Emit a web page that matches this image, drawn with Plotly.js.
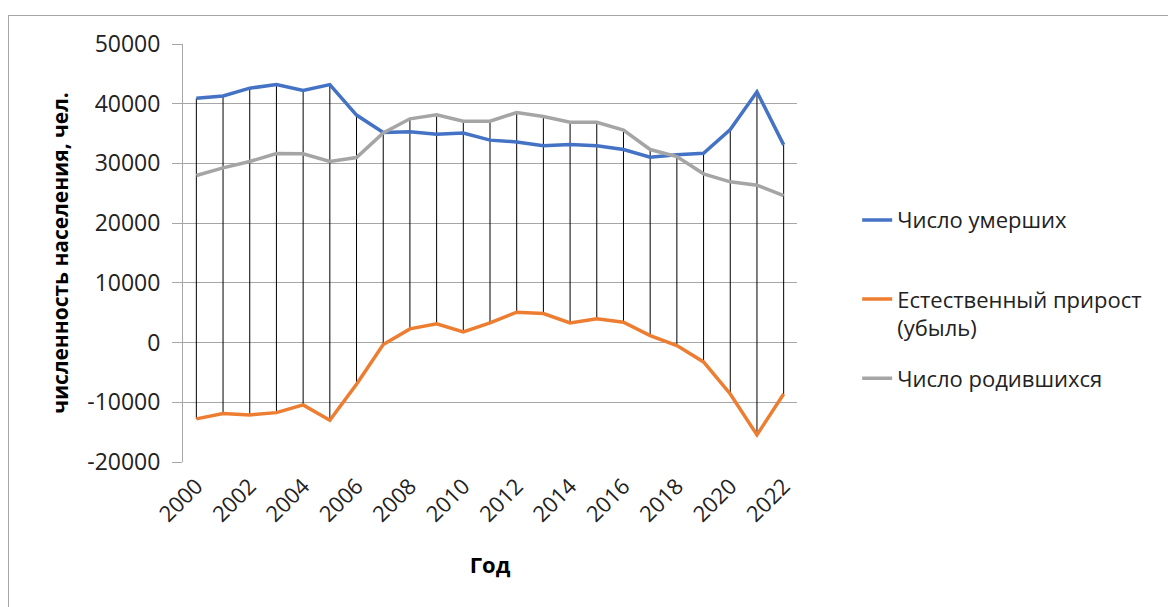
<!DOCTYPE html>
<html>
<head>
<meta charset="utf-8">
<script src="https://cdn.plot.ly/plotly-3.0.1.min.js"></script>
<style>
  html, body { margin: 0; padding: 0; background: #fff; }
  #frame { position: absolute; left: 8px; top: 15px; width: 1200px; height: 620px; border: 1px solid #a6a6a6; box-sizing: border-box; }
  #chart { position: absolute; left: 0; top: 0; width: 1168px; height: 607px; }
</style>
</head>
<body>
<div id="frame"></div>
<div id="chart"></div>
<script>
const years = [2000,2001,2002,2003,2004,2005,2006,2007,2008,2009,2010,2011,2012,2013,2014,2015,2016,2017,2018,2019,2020,2021,2022];
const deaths = [40900,41300,42600,43200,42200,43200,38100,35200,35300,34900,35100,33900,33600,32950,33170,32950,32330,31040,31440,31710,35680,41990,33110];
const births = [27970,29260,30320,31660,31600,30320,30990,35120,37470,38140,37070,37070,38530,37860,36900,36900,35570,32330,31150,28260,26920,26350,24620];
const natural = [-12780,-11890,-12110,-11730,-10440,-13010,-6980,-340,2290,3130,1790,3300,5080,4860,3300,3970,3410,1170,-500,-3240,-8600,-15460,-8600];
const seriesNames = ["Число умерших<br>&nbsp;", "Естественный прирост<br>(убыль)", "Число родившихся"];
const yTickVals = [-20000,-10000,0,10000,20000,30000,40000,50000];
const xTickVals = [2000,2002,2004,2006,2008,2010,2012,2014,2016,2018,2020,2022];

// high-low lines built from the data
const hlX = [], hlY = [];
years.forEach((yr, i) => {
  const vals = [deaths[i], births[i], natural[i]];
  hlX.push(yr, yr, null);
  hlY.push(Math.max(...vals), Math.min(...vals), null);
});

const font = "Open Sans, Liberation Sans, sans-serif";
const traces = [
  { x: hlX, y: hlY, mode: "lines", line: { color: "#000", width: 1 }, showlegend: false, hoverinfo: "skip" },
  { x: years, y: deaths, name: seriesNames[0], mode: "lines", line: { color: "#4472C4", width: 3.5 }, legendgroup: "a" },
  { x: years, y: natural, name: seriesNames[1], mode: "lines", line: { color: "#ED7D31", width: 3.5 }, legendgroup: "b" },
  { x: years, y: births, name: seriesNames[2], mode: "lines", line: { color: "#A5A5A5", width: 3.5 }, legendgroup: "c" }
];

const layout = {
  width: 1168, height: 607,
  margin: { l: 183, r: 371, t: 44, b: 145 },
  paper_bgcolor: "rgba(0,0,0,0)", plot_bgcolor: "rgba(0,0,0,0)",
  font: { family: font, size: 22, color: "#222" },
  xaxis: {
    range: [1999.5, 2022.5], tickvals: xTickVals, ticktext: xTickVals.map(String),
    tickangle: -45, showgrid: false, zeroline: false, showline: false, ticks: "",
    ticklabelstandoff: 6,
    tickfont: { family: font, size: 22, color: "#222" },
    title: { text: "<b>Год</b>", font: { family: font, size: 22, color: "#000" }, standoff: 30 }
  },
  yaxis: {
    range: [-20000, 50000], tickvals: yTickVals, ticktext: yTickVals.map(String),
    showgrid: true, gridcolor: "#a6a6a6", gridwidth: 1, zeroline: false,
    showline: true, linecolor: "#a6a6a6", linewidth: 1,
    ticks: "outside", ticklen: 10, tickcolor: "#a6a6a6",
    ticklabelstandoff: 7,
    tickfont: { family: font, size: 23, color: "#222" },
    title: { text: "<b>численность населения, чел.</b>", font: { family: font, size: 21, color: "#000" }, standoff: 12 }
  },
  showlegend: true,
  legend: {
    x: 1.098, xanchor: "left", xref: "paper", y: 0.629, yanchor: "top",
    font: { family: font, size: 22, color: "#222" },
    tracegroupgap: 19, valign: "top", bgcolor: "rgba(0,0,0,0)"
  }
};
Plotly.newPlot("chart", traces, layout, { displayModeBar: false, staticPlot: true });
</script>
</body>
</html>
